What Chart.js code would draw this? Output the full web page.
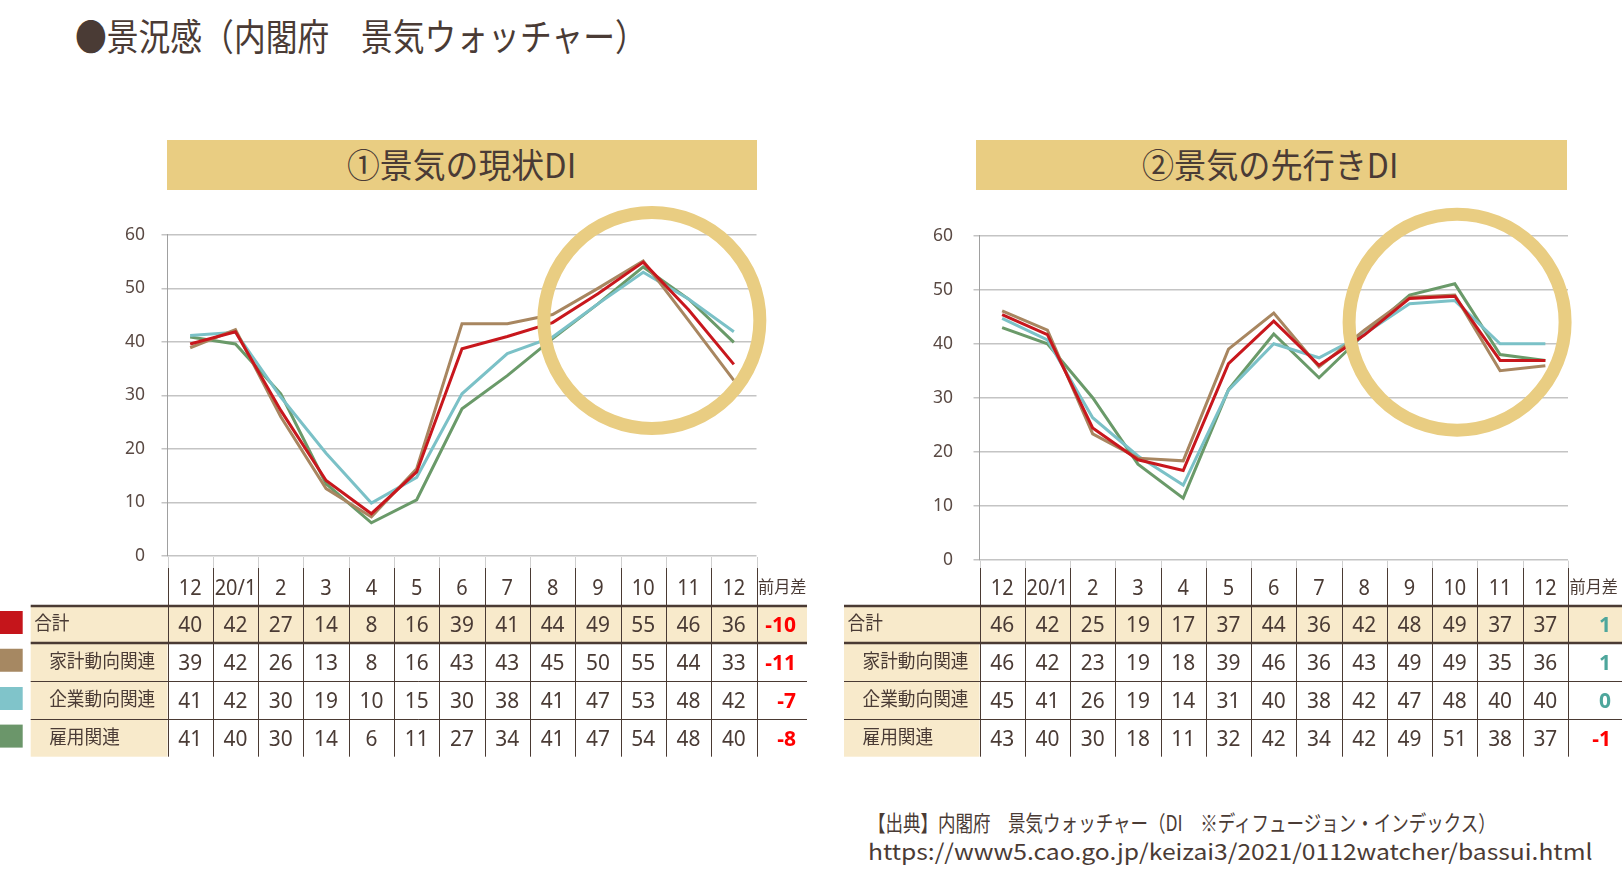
<!DOCTYPE html>
<html>
<head>
<meta charset="utf-8">
<script src="https://cdn.jsdelivr.net/npm/chart.js@4"></script>
<style>
  body { margin: 0; width: 1622px; height: 877px; background: #fff; position: relative; overflow: hidden;
         font-family: "Noto Sans CJK JP", "Noto Sans", sans-serif; color: #4a3b35; }
  .fit { position: absolute; white-space: nowrap; line-height: 1; transform-origin: left top; }
  .box { position: absolute; background: #e9cd82; }
  canvas { position: absolute; }
</style>
</head>
<body>
<div class="fit" data-x="74.5" data-w="572" style="top:17px;font-size:37px;">●景況感（内閣府　景気ウォッチャー）</div>

<div class="box" style="left:166.5px;top:140px;width:590px;height:50px;"></div>
<div class="box" style="left:976px;top:140px;width:591px;height:50px;"></div>
<div class="fit" data-cx="461.5" data-w="229" style="top:147px;font-size:34px;">①景気の現状DI</div>
<div class="fit" data-cx="1270" data-w="256" style="top:147px;font-size:34px;">②景気の先行きDI</div>

<canvas id="cur" width="815" height="580" style="left:0;top:190px;"></canvas>
<canvas id="fut" width="807" height="580" style="left:815px;top:190px;"></canvas>

<div class="fit" data-x="868" data-w="628" style="top:810px;font-size:22px;">【出典】内閣府　景気ウォッチャー（DI　※ディフュージョン・インデックス）</div>
<div class="fit" data-x="868" data-w="724" style="top:839px;font-size:22px;">https://www5.cao.go.jp/keizai3/2021/0112watcher/bassui.html</div>

<script>
const months = ["12", "20/1", "2", "3", "4", "5", "6", "7", "8", "9", "10", "11", "12"];
const rowNames = ["合計", "家計動向関連", "企業動向関連", "雇用関連"];
const lineColors = ["#c8171d", "#a88660", "#7bc1c7", "#6a9a69"];
const swatchColors = ["#c5151b", "#a68862", "#80c4ca", "#6b966a"];

// ① 現状DI, plotted values
const curTotal = [39.6, 41.9, 27.2, 14.1, 7.9, 15.7, 38.7, 41.0, 43.6, 49.0, 54.9, 46.0, 35.8];
const curHousehold = [38.9, 42.3, 26.0, 12.6, 7.3, 16.3, 43.4, 43.4, 45.1, 50.0, 55.1, 44.0, 32.8];
const curCorporate = [41.2, 41.8, 29.7, 19.2, 9.9, 14.7, 30.3, 37.8, 40.9, 47.1, 53.0, 48.0, 41.9];
const curEmployment = [40.9, 39.6, 30.3, 13.5, 6.2, 10.5, 27.5, 33.7, 40.6, 47.1, 54.0, 48.0, 39.9];
// ① table
const curTotalT = [40, 42, 27, 14, 8, 16, 39, 41, 44, 49, 55, 46, 36];
const curHouseholdT = [39, 42, 26, 13, 8, 16, 43, 43, 45, 50, 55, 44, 33];
const curCorporateT = [41, 42, 30, 19, 10, 15, 30, 38, 41, 47, 53, 48, 42];
const curEmploymentT = [41, 40, 30, 14, 6, 11, 27, 34, 41, 47, 54, 48, 40];
const curDiff = [-10, -11, -7, -8];

// ② 先行きDI, plotted values
const futTotal = [45.4, 41.7, 24.4, 18.5, 16.5, 36.3, 44.2, 36.0, 41.6, 48.4, 48.8, 36.9, 36.9];
const futHousehold = [46.1, 42.5, 23.3, 18.8, 18.3, 39.0, 45.7, 35.7, 42.5, 48.6, 49.0, 35.0, 35.9];
const futCorporate = [44.7, 40.7, 26.3, 19.2, 13.8, 31.4, 40.0, 37.4, 41.8, 47.4, 48.0, 40.0, 40.0];
const futEmployment = [43.0, 40.0, 30.0, 17.7, 11.4, 31.5, 41.8, 33.7, 41.8, 49.0, 51.1, 38.0, 36.9];
// ② table
const futTotalT = [46, 42, 25, 19, 17, 37, 44, 36, 42, 48, 49, 37, 37];
const futHouseholdT = [46, 42, 23, 19, 18, 39, 46, 36, 43, 49, 49, 35, 36];
const futCorporateT = [45, 41, 26, 19, 14, 31, 40, 38, 42, 47, 48, 40, 40];
const futEmploymentT = [43, 40, 30, 18, 11, 32, 42, 34, 42, 49, 51, 38, 37];
const futDiff = [1, 1, 0, -1];

// fit html texts to their widths
document.querySelectorAll(".fit").forEach((el) => {
  const w = el.offsetWidth;
  const target = +el.dataset.w;
  el.style.transform = "scaleX(" + target / w + ")";
  const left = el.dataset.cx ? +el.dataset.cx - target / 2 : +el.dataset.x;
  el.style.left = left + "px";
});

const TEXT = "#4a3b35";
const LINE = "#4a3a33";
const CREAM = "#f8eacb";

function drawText(ctx, text, x, cy, size, font, color, align, sx, lift) {
  ctx.save();
  ctx.font = font;
  ctx.fillStyle = color;
  ctx.textAlign = align;
  ctx.textBaseline = "alphabetic";
  ctx.translate(x, cy + lift * size);
  ctx.scale(sx, 1);
  ctx.fillText(text, 0, 0);
  ctx.restore();
}

const tablePlugin = {
  id: "diTable",
  afterDatasetsDraw(chart, args, o) {
    const { ctx, scales } = chart;
    ctx.save();
    ctx.strokeStyle = "#e9cd82";
    ctx.lineWidth = 13;
    ctx.beginPath();
    ctx.arc(scales.x.getPixelForValue(o.circleAt[0]), scales.y.getPixelForValue(o.circleAt[1]),
      o.circleRadius, 0, Math.PI * 2);
    ctx.stroke();
    ctx.restore();
  },
  afterDraw(chart, args, o) {
    const ctx = chart.ctx;
    const ca = chart.chartArea;
    const n = months.length;
    const cw = (ca.right - ca.left) / n;
    const colX = (i) => ca.left + i * cw;
    const tops = o.rowTops;
    const right = o.tableRight;
    const L = o.labelLeft;

    // backgrounds
    ctx.fillStyle = CREAM;
    ctx.fillRect(L, tops[1], right - L, tops[2] - tops[1]);
    ctx.fillRect(L, tops[2], colX(0) - L, tops[5] - tops[2]);

    // swatches
    if (o.swatches) {
      swatchColors.forEach((c, r) => {
        const cy = (tops[r + 1] + tops[r + 2]) / 2 - 2;
        ctx.fillStyle = c;
        ctx.fillRect(0, cy - 11.5, 22.7, 23);
      });
    }

    // small ticks under the axis
    ctx.strokeStyle = "#cfcfcf";
    ctx.lineWidth = 1;
    for (let i = 0; i <= n; i++) {
      const x = Math.round(colX(i)) + 0.5;
      ctx.beginPath();
      ctx.moveTo(x, ca.bottom + 1);
      ctx.lineTo(x, tops[0]);
      ctx.stroke();
    }

    // vertical lines
    ctx.strokeStyle = LINE;
    for (let i = 0; i <= n; i++) {
      const x = Math.round(colX(i)) + 0.5;
      ctx.beginPath();
      ctx.moveTo(x, tops[0]);
      ctx.lineTo(x, tops[5]);
      ctx.stroke();
    }
    // horizontal lines
    [[tops[1], 2.5], [tops[2], 2.5], [tops[3], 1], [tops[4], 1]].forEach(([y, w]) => {
      ctx.lineWidth = w;
      ctx.beginPath();
      ctx.moveTo(L, y);
      ctx.lineTo(right, y);
      ctx.stroke();
    });

    // header
    const hy = (tops[0] + tops[1]) / 2;
    months.forEach((m, i) => {
      drawText(ctx, m, colX(i) + cw / 2, hy, 21, "21px 'Noto Sans'", TEXT, "center", 0.95, 0.36);
    });
    drawText(ctx, "前月差", colX(n) + 1.5, hy, 16.5, "16.5px 'Noto Sans CJK JP'", TEXT, "left", 0.98, 0.38);

    // rows
    o.rows.forEach((vals, r) => {
      const cy = (tops[r + 1] + tops[r + 2]) / 2;
      const lx = r === 0 ? L + 3.5 : L + 18.5;
      drawText(ctx, rowNames[r], lx, cy - 1.5, 19, "19px 'Noto Sans CJK JP'", TEXT, "left", 0.93, 0.38);
      vals.forEach((v, i) => {
        drawText(ctx, String(v), colX(i) + cw / 2, cy, 22, "22px 'Noto Sans'", TEXT, "center", 0.95, 0.36);
      });
      const d = o.diffs[r];
      drawText(ctx, String(d), right - 11, cy, 21, "bold 21px 'Noto Sans'",
        d < 0 ? "#ff0000" : "#4ea69c", "right", 1.0, 0.36);
    });
  },
};

function makeChart(id, series, rows, diffs, cfg) {
  const ctx = document.getElementById(id).getContext("2d");
  return new Chart(ctx, {
    type: "line",
    data: {
      labels: months,
      datasets: series.map((data, i) => {
        return {
          label: rowNames[i],
          data: data,
          borderColor: lineColors[i],
          borderWidth: 3,
          pointRadius: 0,
          tension: 0,
          fill: false,
        };
      }),
    },
    options: {
      responsive: false,
      animation: false,
      layout: { padding: { left: 0, top: cfg.top, right: cfg.right, bottom: cfg.bottom } },
      plugins: {
        legend: { display: false },
        tooltip: { enabled: false },
        diTable: {
          rows: rows,
          diffs: diffs,
          swatches: cfg.swatches,
          labelLeft: cfg.labelLeft,
          tableRight: 807,
          rowTops: [378, 416, 453, 491.5, 529.5, 566.7],
          circleAt: cfg.circleAt,
          circleRadius: 108,
        },
      },
      scales: {
        x: { type: "category", display: false, offset: true },
        y: {
          min: 0,
          max: 60,
          ticks: {
            stepSize: 10,
            color: "#5a4a44",
            padding: cfg.tickPad,
            font: { family: "'Noto Sans'", size: 17.5 },
          },
          grid: { color: "#c4c4c4", lineWidth: 1.5, tickLength: 6 },
          border: { display: true, color: "#a0a0a0", width: 1 },
          afterFit: (scale) => {
            scale.width = cfg.left;
          },
        },
      },
    },
    plugins: [tablePlugin],
  });
}

makeChart("cur",
  [curTotal, curHousehold, curCorporate, curEmployment],
  [curTotalT, curHouseholdT, curCorporateT, curEmploymentT],
  curDiff,
  { left: 167.5, top: 44.8, right: 58.5, bottom: 214, tickPad: 16.5, swatches: true, labelLeft: 30.7, circleAt: [10.19, 44] });

makeChart("fut",
  [futTotal, futHousehold, futCorporate, futEmployment],
  [futTotalT, futHouseholdT, futCorporateT, futEmploymentT],
  futDiff,
  { left: 164.5, top: 45.8, right: 54, bottom: 210.4, tickPad: 20.5, swatches: false, labelLeft: 29, circleAt: [10.05, 44] });
</script>
</body>
</html>
